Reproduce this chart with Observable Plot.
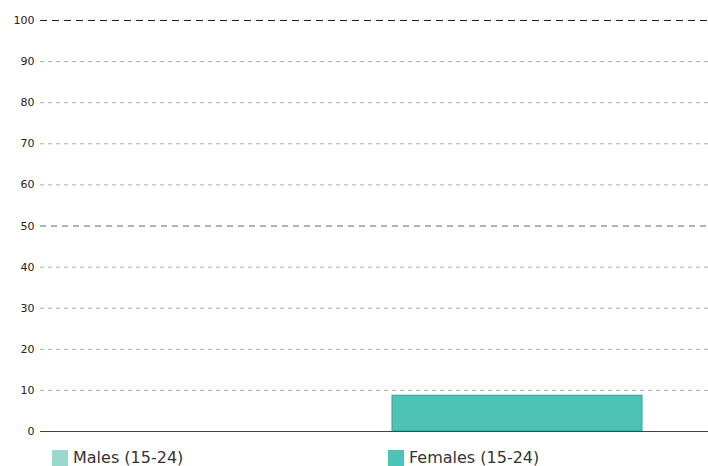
<!DOCTYPE html>
<html><head><meta charset="utf-8">
<script src="https://cdn.jsdelivr.net/npm/d3@7"></script>
<script src="https://cdn.jsdelivr.net/npm/@observablehq/plot@0.6"></script>
<style>
body{margin:0;background:#fff;font-family:"DejaVu Sans",sans-serif;}
#legend{position:relative;height:26px;font-size:16px;color:#333;}
.item{position:absolute;top:8px;display:flex;align-items:center;}
.sw{width:16px;height:16px;margin-right:5px;display:inline-block;}
</style></head><body>
<div id="chart"></div>
<div id="legend"></div>
<script>
const categories = ["Males (15-24)", "Females (15-24)"];
const values = [0, 8.7];
const colors = ["#99d8cf", "#4dc2b7"];
const strokes = ["#7cc9be", "#2aa896"];
const ticks = [0,10,20,30,40,50,60,70,80,90,100];

const data = categories.map((c,i)=>({cat:c, value:values[i], color:colors[i], stroke:strokes[i]}));
const gridMinor = ticks.filter(t => t !== 0 && t !== 50 && t !== 100);

const chart = Plot.plot({
  width: 708, height: 440,
  marginLeft: 40, marginRight: 0, marginTop: 20, marginBottom: 9,
  style: {fontFamily: "DejaVu Sans, sans-serif", fontSize: "11px", color: "#222"},
  x: {domain: categories, paddingInner: 0.126, paddingOuter: 0.23, axis: null},
  y: {domain: [0,100], ticks: ticks, label: null},
  marks: [
    Plot.ruleY(gridMinor, {stroke: "#aaa", strokeDasharray: "4,4", strokeWidth: 1}),
    Plot.ruleY([50], {stroke: "#666", strokeDasharray: "6,5", strokeWidth: 1.2}),
    Plot.ruleY([100], {stroke: "#222", strokeDasharray: "7,5", strokeWidth: 1.2}),
    Plot.barY(data, {x: "cat", y: "value", fill: d => d.color, stroke: d => d.stroke, strokeWidth: 1}),
    Plot.ruleY([0], {stroke: "#444", strokeWidth: 1.2}),
    Plot.axisY({ticks: ticks, tickSize: 0, tickPadding: 6, label: null})
  ]
});
document.getElementById("chart").appendChild(chart);

const leg = document.getElementById("legend");
const lx = [52, 388];
categories.forEach((c,i)=>{
  const d = document.createElement("div");
  d.className = "item";
  d.style.left = lx[i] + "px";
  d.innerHTML = `<span class="sw" style="background:${colors[i]}"></span>${c}`;
  leg.appendChild(d);
});
</script>
</body></html>
